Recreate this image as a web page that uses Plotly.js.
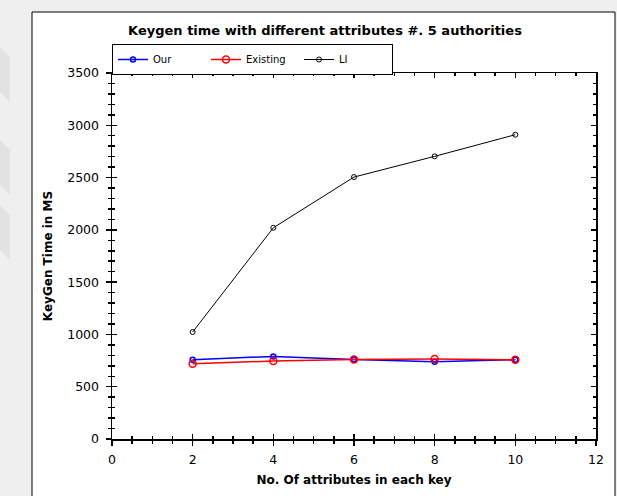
<!DOCTYPE html>
<html>
<head>
<meta charset="utf-8">
<script src="https://cdn.plot.ly/plotly-3.0.1.min.js"></script>
<style>
  html, body { margin: 0; padding: 0; background: #efefef; }
  #chart { width: 617px; height: 496px; }
</style>
</head>
<body>
<div id="chart"></div>
<script>
// ---- data ----
var attributes = [2, 4, 6, 8, 10];
var ourTimes = [758, 790, 761, 739, 758];
var existingTimes = [720, 746, 761, 765, 758];
var liTimes = [1023, 2020, 2505, 2703, 2910];
var seriesNames = ['Our', 'Existing', 'LI'];
var chartTitle = 'Keygen time with different attributes #. 5 authorities';
var xTitle = 'No. Of attributes in each key';
var yTitle = 'KeyGen Time in MS';

// ---- layout geometry (pixels) ----
var W = 617, H = 496;
var L = 112, R = 596, T = 73, B = 439;
function px(x) { return (x - L) / (R - L); }
function py(y) { return (B - y) / (B - T); }

var font = 'DejaVu Sans, Verdana, sans-serif';

var traces = [
  { x: attributes, y: ourTimes, name: seriesNames[0], type: 'scatter', mode: 'lines+markers',
    line: { color: '#0000ff', width: 1.5 }, marker: { symbol: 'circle-open', size: 5, color: '#0000ff', line: { width: 1.5 } } },
  { x: attributes, y: existingTimes, name: seriesNames[1], type: 'scatter', mode: 'lines+markers',
    line: { color: '#ff0000', width: 1.5 }, marker: { symbol: 'circle-open', size: 7, color: '#ff0000', line: { width: 1.5 } } },
  { x: attributes, y: liTimes, name: seriesNames[2], type: 'scatter', mode: 'lines+markers',
    line: { color: '#000000', width: 1 }, marker: { symbol: 'circle-open', size: 5, color: '#000000', line: { width: 1 } } },
  { x: [null], y: [null], xaxis: 'x2', yaxis: 'y2', showlegend: false, hoverinfo: 'skip', mode: 'markers' },
  { x: [null], y: [null], xaxis: 'x3', yaxis: 'y3', showlegend: false, hoverinfo: 'skip', mode: 'markers' }
];

var baseAxis = {
  showgrid: false, zeroline: false, showline: true, linecolor: '#000', linewidth: 1.5,
  tickcolor: '#000', tickwidth: 1.5, fixedrange: true
};

function stripe(y0) {
  return { type: 'path', xref: 'paper', yref: 'paper', layer: 'below',
    path: 'M ' + px(0) + ' ' + py(y0) + ' L ' + px(10) + ' ' + py(y0 + 10) +
          ' L ' + px(10) + ' ' + py(y0 + 55) + ' L ' + px(0) + ' ' + py(y0 + 45) + ' Z',
    fillcolor: '#e2e2e2', line: { width: 0 } };
}

var layout = {
  width: W, height: H,
  margin: { l: L, r: W - R, t: T, b: H - B },
  paper_bgcolor: '#efefef', plot_bgcolor: '#ffffff',
  font: { family: font, size: 12.5, color: '#000' },
  showlegend: true,
  title: { text: '<b>' + chartTitle + '</b>', font: { family: font, size: 13, color: '#000' },
    xref: 'container', x: 325 / W, xanchor: 'center', yref: 'container', y: 1 - 30 / H, yanchor: 'middle' },
  legend: { orientation: 'h', x: px(112), xanchor: 'left', y: py(44), yanchor: 'top',
    bgcolor: '#ffffff', bordercolor: '#000', borderwidth: 1,
    font: { family: font, size: 10, color: '#000' },
    entrywidth: 48, entrywidthmode: 'pixels', itemwidth: 30, tracegroupgap: 0 },
  xaxis: Object.assign({}, baseAxis, {
    range: [0, 12], tick0: 0, dtick: 2, ticks: 'outside', ticklen: 5,
    minor: { dtick: 0.5, ticks: 'outside', ticklen: 3, tickcolor: '#000', tickwidth: 1.5 },
    ticklabelstandoff: 3,
    title: { text: '<b>' + xTitle + '</b>', font: { family: font, size: 12 }, standoff: 10 }
  }),
  yaxis: Object.assign({}, baseAxis, {
    range: [0, 3500], tick0: 0, dtick: 500, ticks: 'outside', ticklen: 5,
    minor: { dtick: 100, ticks: 'outside', ticklen: 3, tickcolor: '#000', tickwidth: 1.5 },
    ticklabelstandoff: 4,
    title: { text: '<b>' + yTitle + '</b>', font: { family: font, size: 12 }, standoff: 12 }
  }),
  xaxis2: Object.assign({}, baseAxis, {
    overlaying: 'x', anchor: 'y2', side: 'top', range: [0, 12], tick0: 0, dtick: 2,
    ticks: 'inside', ticklen: 5, showticklabels: false,
    minor: { dtick: 0.5, ticks: 'inside', ticklen: 3, tickcolor: '#000', tickwidth: 1.5 }
  }),
  yaxis2: Object.assign({}, baseAxis, {
    overlaying: 'y', anchor: 'x2', side: 'right', range: [0, 3500], tick0: 0, dtick: 500,
    ticks: 'inside', ticklen: 5, showticklabels: false,
    minor: { dtick: 100, ticks: 'inside', ticklen: 3, tickcolor: '#000', tickwidth: 1.5 }
  }),
  xaxis3: Object.assign({}, baseAxis, {
    overlaying: 'x', anchor: 'y3', side: 'bottom', range: [0, 12], tick0: 0, dtick: 2,
    ticks: 'inside', ticklen: 5, showticklabels: false,
    minor: { dtick: 0.5, ticks: 'inside', ticklen: 3, tickcolor: '#000', tickwidth: 1.5 }
  }),
  yaxis3: Object.assign({}, baseAxis, {
    overlaying: 'y', anchor: 'x3', side: 'left', range: [0, 3500], tick0: 0, dtick: 500,
    ticks: 'inside', ticklen: 5, showticklabels: false,
    minor: { dtick: 100, ticks: 'inside', ticklen: 3, tickcolor: '#000', tickwidth: 1.5 }
  }),
  shapes: [
    { type: 'rect', xref: 'paper', yref: 'paper', layer: 'below',
      x0: px(32), x1: px(615), y0: py(H + 5), y1: py(12),
      fillcolor: '#ffffff', line: { color: '#000', width: 1 } },
    stripe(47), stripe(140), stripe(205)
  ]
};

Plotly.newPlot('chart', traces, layout, { displayModeBar: false, staticPlot: true });
</script>
</body>
</html>
